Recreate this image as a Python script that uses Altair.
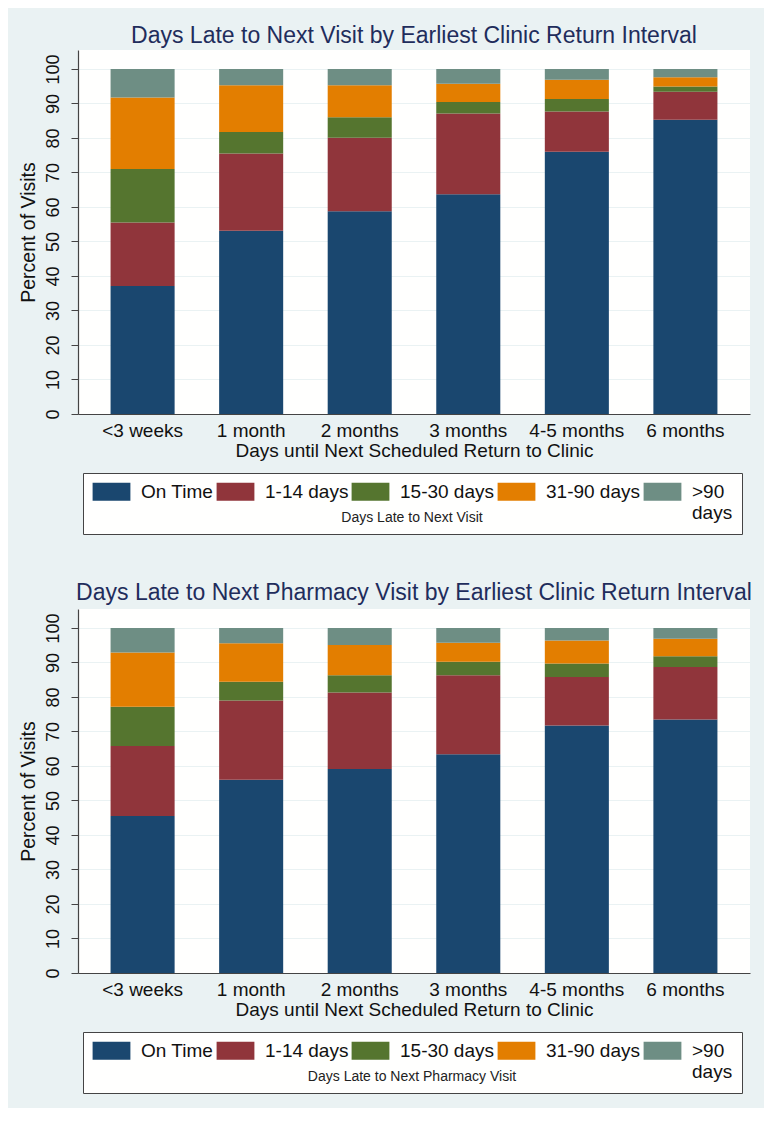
import altair as alt
import pandas as pd

groups = ["<3 weeks", "1 month", "2 months", "3 months", "4-5 months", "6 months"]
categories = ["On Time", "1-14 days", "15-30 days", "31-90 days", ">90 days"]
colors = ["#1A476F", "#90353B", "#55752F", "#E37E00", "#6E8E84"]

# Panel 1: Days late to next visit (percent of visits, per group)
visit_on_time = [37.1, 53.1, 58.8, 63.7, 76.0, 85.3]
visit_1_14 = [18.4, 22.4, 21.3, 23.4, 11.7, 8.1]
visit_15_30 = [15.5, 6.2, 5.9, 3.3, 3.6, 1.5]
visit_31_90 = [20.7, 13.6, 9.3, 5.3, 5.6, 2.7]
visit_90_plus = [8.3, 4.7, 4.7, 4.3, 3.1, 2.4]

# Panel 2: Days late to next pharmacy visit
pharm_on_time = [45.5, 56.0, 59.1, 63.4, 71.7, 73.5]
pharm_1_14 = [20.3, 23.0, 22.2, 22.9, 14.1, 15.2]
pharm_15_30 = [11.4, 5.4, 5.0, 3.9, 3.9, 3.1]
pharm_31_90 = [15.7, 11.2, 8.8, 5.5, 6.7, 5.1]
pharm_90_plus = [7.1, 4.4, 4.9, 4.3, 3.6, 3.1]

FONT = "Liberation Sans"
TITLE_COLOR = "#1F2D5C"


def build_df(series):
    rows = []
    for ci, (cat, vals) in enumerate(zip(categories, series)):
        for g, v in zip(groups, vals):
            rows.append({"group": g, "cat": cat, "order": ci, "value": v})
    return pd.DataFrame(rows)


def panel(series, title, legend_title, title_offset):
    df = build_df(series)
    return (
        alt.Chart(df)
        .mark_bar(strokeWidth=0)
        .encode(
            x=alt.X(
                "group:N",
                sort=groups,
                scale=alt.Scale(paddingInner=0.41, paddingOuter=0.3),
                axis=alt.Axis(
                    title="Days until Next Scheduled Return to Clinic",
                    labelAngle=0,
                    ticks=False,
                    labelFontSize=19,
                    titleFontSize=19,
                    titleFontWeight="normal",
                    labelPadding=7,
                    titlePadding=1,
                    labelColor="#111",
                    titleColor="#111",
                    domainColor="#444",
                    domainWidth=1.2,
                    grid=False,
                ),
            ),
            y=alt.Y(
                "value:Q",
                stack="zero",
                scale=alt.Scale(domain=[0, 105.5], nice=False, zero=True),
                axis=alt.Axis(
                    title="Percent of Visits",
                    values=list(range(0, 101, 10)),
                    labelAngle=270,
                    labelAlign="center",
                    labelBaseline="bottom",
                    labelFontSize=18,
                    titleFontSize=19.5,
                    titleFontWeight="normal",
                    labelPadding=9,
                    titlePadding=6,
                    tickSize=7,
                    tickColor="#444",
                    labelColor="#111",
                    titleColor="#111",
                    domainColor="#444",
                    domainWidth=1.2,
                    gridColor="#EAF2F3",
                    gridWidth=1,
                ),
            ),
            color=alt.Color(
                "cat:N",
                sort=categories,
                scale=alt.Scale(domain=categories, range=colors),
                legend=alt.Legend(
                    orient="none",
                    legendX=5,
                    legendY=423,
                    direction="horizontal",
                    columns=5,
                    title=legend_title,
                    titleOrient="bottom",
                    titleAnchor="middle",
                    titleFontSize=14,
                    titleFontWeight="normal",
                    titleColor="#222",
                    titlePadding=-12,
                    titleLimit=500,
                    labelFontSize=19,
                    labelColor="#111",
                    labelLimit=300,
                    labelExpr="datum.label == '>90 days' ? ['>90', 'days'] : [datum.label, '']",
                    symbolType="M-2.1,-1H2.1V1H-2.1Z",
                    symbolSize=324,
                    symbolOffset=10,
                    symbolStrokeWidth=0,
                    symbolOpacity=1,
                    labelOffset=20,
                    columnPadding=2,
                    padding=9,
                    fillColor="#FFFFFE",
                    strokeColor="#444",
                ),
            ),
            order=alt.Order("order:Q"),
        )
        .properties(
            width=672,
            height=364,
            title=alt.Title(
                title,
                fontSize=23,
                fontWeight="normal",
                color=TITLE_COLOR,
                anchor="middle",
                offset=title_offset,
            ),
        )
    )


top = panel(
    [visit_on_time, visit_1_14, visit_15_30, visit_31_90, visit_90_plus],
    "Days Late to Next Visit by Earliest Clinic Return Interval",
    "Days Late to Next Visit",
    2,
)
bottom = panel(
    [pharm_on_time, pharm_1_14, pharm_15_30, pharm_31_90, pharm_90_plus],
    "Days Late to Next Pharmacy Visit by Earliest Clinic Return Interval",
    "Days Late to Next Pharmacy Visit",
    4,
)

chart = (
    alt.vconcat(top, bottom, spacing=47)
    .resolve_scale(color="independent")
    .properties(background="#EAF2F3", padding={"left": 9, "top": 17, "right": 12, "bottom": 14})
    .configure(font=FONT)
    .configure_view(fill="#FFFFFE", stroke=None)
)

chart.save("out.html", embed_options={"renderer": "svg", "actions": False})
